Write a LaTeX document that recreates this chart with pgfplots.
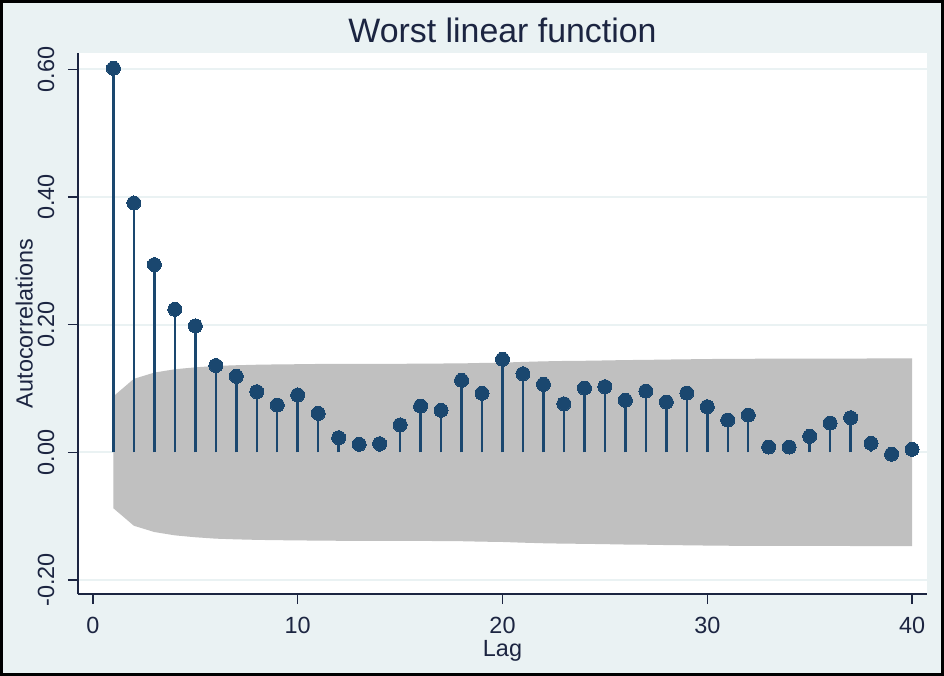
\documentclass[border=0pt]{standalone}
\usepackage{pgfplots}
\pgfplotsset{compat=1.18}
\usepackage{pgfplotstable}
\usepackage{fontspec}
\setmainfont{Liberation Sans}
\definecolor{bgc}{HTML}{EAF2F3}
\definecolor{stemc}{HTML}{1A476F}
\definecolor{bandc}{HTML}{C0C0C0}
\definecolor{txt}{HTML}{1C2541}
\definecolor{gridc}{HTML}{EAF2F3}

\pgfplotstableread{
lag r
1 0.6016
2 0.3906
3 0.2940
4 0.2240
5 0.1980
6 0.1360
7 0.1190
8 0.0950
9 0.0740
10 0.0898
11 0.0610
12 0.0229
13 0.0125
14 0.0135
15 0.0430
16 0.0725
17 0.0658
18 0.1128
19 0.0924
20 0.1457
21 0.1230
22 0.1065
23 0.0760
24 0.1007
25 0.1028
26 0.0815
27 0.0960
28 0.0788
29 0.0929
30 0.0714
31 0.0506
32 0.0584
33 0.0083
34 0.0083
35 0.0250
36 0.0459
37 0.0542
38 0.0141
39 -0.0030
40 0.0047
}\acf

% confidence band: upper bound for lags 1..40, then lower bound for lags 40..1
\pgfplotstableread{
lag b
1 0.0877
2 0.1151
3 0.1249
4 0.1301
5 0.1331
6 0.1353
7 0.1364
8 0.1372
9 0.1377
10 0.1380
11 0.1384
12 0.1386
13 0.1386
14 0.1387
15 0.1387
16 0.1388
17 0.1391
18 0.1393
19 0.1400
20 0.1405
21 0.1416
22 0.1425
23 0.1431
24 0.1434
25 0.1439
26 0.1445
27 0.1448
28 0.1453
29 0.1457
30 0.1461
31 0.1464
32 0.1465
33 0.1467
34 0.1467
35 0.1467
36 0.1467
37 0.1468
38 0.1470
39 0.1470
40 0.1470
40 -0.1470
39 -0.1470
38 -0.1470
37 -0.1468
36 -0.1467
35 -0.1467
34 -0.1467
33 -0.1467
32 -0.1465
31 -0.1464
30 -0.1461
29 -0.1457
28 -0.1453
27 -0.1448
26 -0.1445
25 -0.1439
24 -0.1434
23 -0.1431
22 -0.1425
21 -0.1416
20 -0.1405
19 -0.1400
18 -0.1393
17 -0.1391
16 -0.1388
15 -0.1387
14 -0.1387
13 -0.1386
12 -0.1386
11 -0.1384
10 -0.1380
9 -0.1377
8 -0.1372
7 -0.1364
6 -0.1353
5 -0.1331
4 -0.1301
3 -0.1249
2 -0.1151
1 -0.0877
}\band

\begin{document}
\begin{tikzpicture}
\useasboundingbox (-78bp,-82bp) rectangle (866bp,594bp);
\fill[bgc] (-78bp,-82bp) rectangle (866bp,594bp);
\draw[black, line width=3bp] (-76.5bp,-80.5bp) rectangle (864.5bp,592.5bp);
\begin{axis}[
  at={(0,0)}, anchor=south west,
  scale only axis, width=849bp, height=541bp,
  xmin=-0.73, xmax=40.73, ymin=-0.222, ymax=0.6256,
  axis background/.style={fill=white},
  axis x line*=bottom, axis y line*=left,
  axis line style={txt, line width=1.2bp, -},
  xtick={0,10,20,30,40},
  xticklabels={0,10,20,30,40},
  ytick={-0.2,0,0.2,0.4,0.6},
  yticklabels={-0.20,0.00,0.20,0.40,0.60},
  tick align=outside, major tick length=10bp,
  tick style={txt, line width=1.2bp},
  ymajorgrids, grid style={gridc, line width=2bp},
  tick label style={font=\fontsize{23.5}{27}\selectfont, text=txt},
  xticklabel style={yshift=-10bp},
  yticklabel style={rotate=90, anchor=south, yshift=10bp},
  xlabel={Lag}, ylabel={Autocorrelations},
  label style={font=\fontsize{23.5}{27}\selectfont, text=txt},
  xlabel style={at={(axis description cs:0.5,0)}, anchor=center, yshift=-57bp},
  ylabel style={at={(axis description cs:-0.0489,0.5)}, anchor=south},
  title={Worst linear function},
  title style={at={(axis description cs:0.5,1)}, anchor=center, yshift=17bp, font=\fontsize{34}{40}\selectfont, text=txt},
]
\addplot[fill=bandc, draw=none] table[x=lag, y=b] {\band} -- cycle;
\addplot[ycomb, stemc, line width=2.5bp, mark=*, mark size=7bp, mark options={fill=stemc, draw=stemc, line width=0pt}, clip=false] table[x=lag, y=r] {\acf};
\end{axis}
\end{tikzpicture}
\end{document}
